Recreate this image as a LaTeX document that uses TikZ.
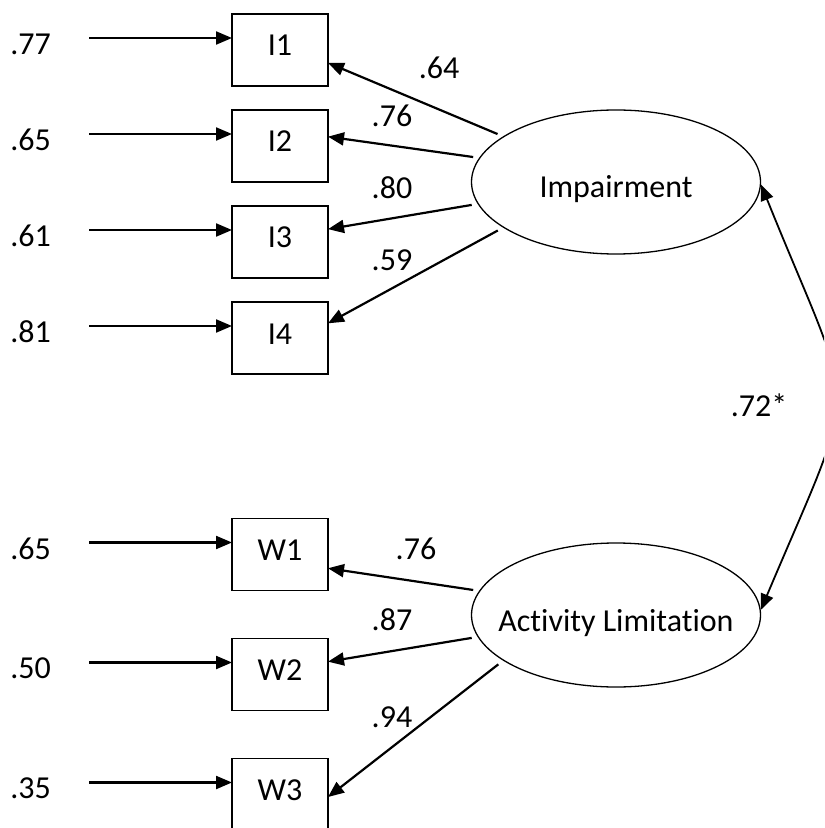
\documentclass[tikz,border=0pt]{standalone}
\usepackage{fontspec}
\setmainfont{Carlito}[Ligatures={NoCommon,NoContextual}]
\usetikzlibrary{arrows.meta,positioning,shapes.geometric}

\tikzset{
  obs/.style={draw, line width=0.8pt, minimum width=48pt, minimum height=36pt, inner sep=0pt, outer sep=0pt, text height=10pt, text depth=4pt},
  lat/.style={ellipse, draw, line width=0.65pt, minimum width=144.5pt, minimum height=72pt, inner ysep=0pt, inner xsep=-12pt, text height=16pt, text depth=0pt},
  val/.style={inner sep=0pt},
  load/.style={->, line width=1.1pt, shorten <=3pt}
}

\begin{document}
\begin{tikzpicture}[x=0.5pt, y=-0.5pt, font=\fontsize{16}{19}\selectfont, >={Triangle[length=8pt,width=6.5pt]}]
\clip (0,0) rectangle (824,828);
\node[obs] (I1) at (280,50) {I1};
\node[obs] (I2) at (280,146) {I2};
\node[obs] (I3) at (280,242) {I3};
\node[obs] (I4) at (280,338) {I4};
\node[obs] (W1) at (280,554.5) {W1};
\node[obs] (W2) at (280,674.5) {W2};
\node[obs] (W3) at (280,794.5) {W3};
\node[lat] (imp) at (616,182) {Impairment};
\node[lat] (act) at (616,615) {Activity Limitation};

\node[val, left=90.4pt of I1, yshift=3pt] (eI1) {.77};
\node[val, left=90.4pt of I2, yshift=3pt] (eI2) {.65};
\node[val, left=90.4pt of I3, yshift=3pt] (eI3) {.61};
\node[val, left=90.4pt of I4, yshift=3pt] (eI4) {.81};
\node[val, left=90.4pt of W1, yshift=3pt] (eW1) {.65};
\node[val, left=90.4pt of W2, yshift=3pt] (eW2) {.50};
\node[val, left=90.4pt of W3, yshift=3pt] (eW3) {.35};

\draw [->, line width=1.1pt] ([xshift=19pt,yshift=3pt]eI1.east) -- ([yshift=6pt]I1.west);
\draw [->, line width=1.1pt] ([xshift=19pt,yshift=3pt]eI2.east) -- ([yshift=6pt]I2.west);
\draw [->, line width=1.1pt] ([xshift=19pt,yshift=3pt]eI3.east) -- ([yshift=6pt]I3.west);
\draw [->, line width=1.1pt] ([xshift=19pt,yshift=3pt]eI4.east) -- ([yshift=6pt]I4.west);
\draw [->, line width=1.1pt] ([xshift=19pt,yshift=3pt]eW1.east) -- ([yshift=6pt]W1.west);
\draw [->, line width=1.1pt] ([xshift=19pt,yshift=3pt]eW2.east) -- ([yshift=6pt]W2.west);
\draw [->, line width=1.1pt] ([xshift=19pt,yshift=3pt]eW3.east) -- ([yshift=6pt]W3.west);

\draw [load] (imp.158) -- (I1.-15);
\draw [load] (imp.170.5) -- (I2.11);
\draw [load] (imp.189.5) -- (I3.15);
\draw [load] (imp.202) -- (I4.17);
\draw [load] (act.170) -- (W1.-16);
\draw [load] (act.189) -- (W2.15);
\draw [load] (act.202) -- (W3.-3);

\node[val] (lI1) at (439,68) {.64};
\node[val] (lI2) at (392,116) {.76};
\node[val] (lI3) at (392,188) {.80};
\node[val] (lI4) at (392,260) {.59};
\node[val] (lW1) at (416,549) {.76};
\node[val] (lW2) at (392,620) {.87};
\node[val] (lW3) at (392,717) {.94};

\draw [<->, line width=0.9pt] (imp.-1) .. controls (858,425) and (862,370) .. (act.2);
\node[val] (r) at (759,405) {.72*};
\end{tikzpicture}
\end{document}
